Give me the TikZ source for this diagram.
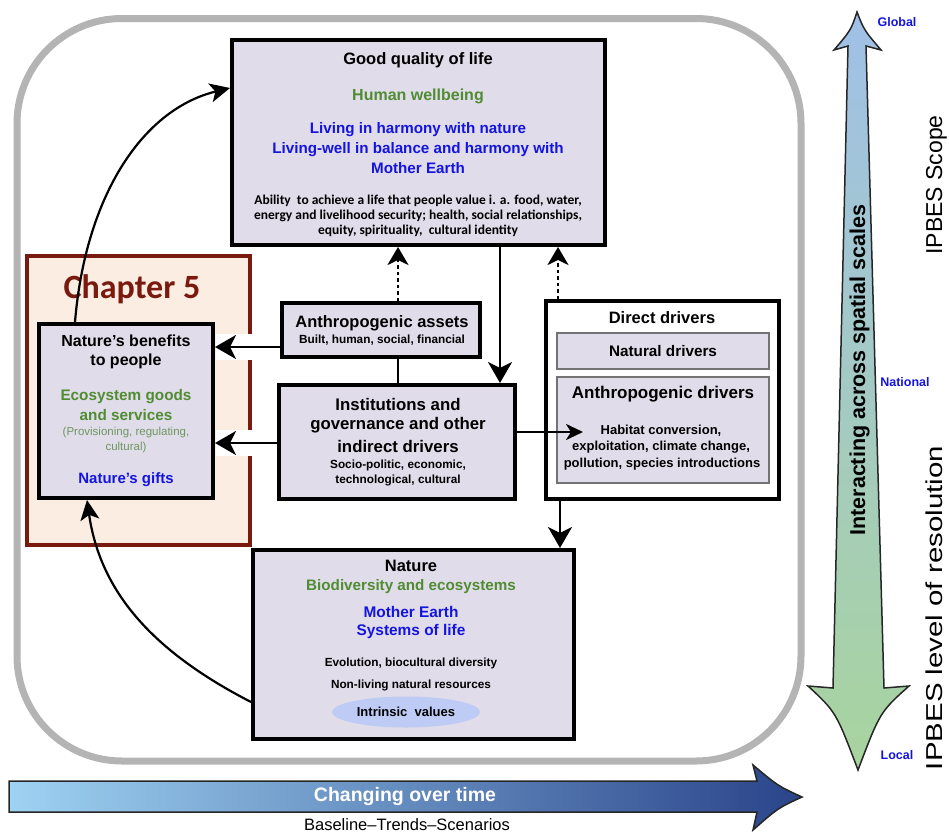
\documentclass[tikz,border=0pt]{standalone}
\usepackage{fontspec}
\setmainfont{Liberation Sans}
\newfontfamily\calib{Carlito}
\usetikzlibrary{arrows.meta,shapes.geometric}
\definecolor{lav}{RGB}{224,220,234}
\definecolor{peach}{RGB}{252,237,226}
\definecolor{chred}{RGB}{122,26,14}
\definecolor{grn}{RGB}{80,140,50}
\definecolor{lgrn}{RGB}{112,150,95}
\definecolor{blu}{RGB}{20,20,225}
\definecolor{outergray}{RGB}{180,180,180}
\definecolor{ellfill}{RGB}{190,204,245}
\definecolor{arrtop}{RGB}{160,192,232}
\definecolor{arrmid}{RGB}{163,204,205}
\definecolor{arrbot}{RGB}{168,212,158}
\definecolor{tleft}{RGB}{158,210,242}
\definecolor{tright}{RGB}{42,68,138}
\newcommand{\fsz}[1]{\fontsize{#1}{#1}\selectfont}
\begin{document}
\begin{tikzpicture}[x=1pt,y=-1pt,
  bigbox/.style={draw=black, line width=4pt, fill=lav, inner sep=0pt},
  subbox/.style={draw=black!55, line width=1.5pt, fill=lav, inner sep=0pt},
  lbl/.style={inner sep=0pt, align=center},
  arr/.style={line width=2.8pt, -{Stealth[length=21pt,width=24pt,inset=6pt]}},
  arrsmall/.style={line width=2.5pt, -{Stealth[length=17pt,width=16pt,inset=5pt]}},
  dotarr/.style={line width=2.5pt, dash pattern=on 3.5pt off 3pt, -{Stealth[length=18pt,width=21pt,inset=5pt]}},
  carr/.style={line width=2.2pt, -{Stealth[length=20pt,width=19pt,inset=5pt]}},
  scale label/.style={lbl, text=blu, font=\fsz{12.5}\bfseries}
]
\useasboundingbox (0,0) rectangle (949,835);
% outer frame
\draw[outergray, line width=7pt, rounded corners=105pt] (17,18.5) rectangle (801,761);

% chapter 5 box
\node[draw=chred, line width=4pt, fill=peach, minimum width=223pt, minimum height=289pt, inner sep=0pt] (ch5) at (138.5,400.5) {};
\node[lbl, text=chred, font=\calib\fsz{34}\bfseries] (ch5t) at (132,289) {Chapter 5};
\fill[white] (216,334) rectangle (281,360);
\fill[white] (216,430) rectangle (278,456);

% boxes
\node[bigbox, minimum width=373pt, minimum height=205pt] (good) at (418.5,142.5) {};
\node[bigbox, minimum width=174pt, minimum height=174pt] (benefits) at (126,411) {};
\node[bigbox, minimum width=198pt, minimum height=54pt] (assets) at (381,330) {};
\node[bigbox, minimum width=236pt, minimum height=114pt] (inst) at (397,442) {};
\node[bigbox, fill=white, minimum width=233pt, minimum height=198pt] (direct) at (662.5,400) {};
\node[subbox, minimum width=212pt, minimum height=36pt] (natural) at (663,351) {};
\node[subbox, minimum width=212pt, minimum height=106pt] (anthro) at (663,430) {};
\node[bigbox, minimum width=321pt, minimum height=189pt] (nature) at (413.5,644.5) {};
\node[ellipse, fill=ellfill, minimum width=148pt, minimum height=31pt, inner sep=0pt] (intr) at (406,712) {};

% good quality of life texts
\node[lbl, font=\fsz{16.5}\bfseries] (g1) at (418,60) {Good quality of life};
\node[lbl, text=grn, font=\fsz{16}\bfseries] (g2) at (418,96) {Human wellbeing};
\node[lbl, text=blu, font=\fsz{15.2}\bfseries] (g3) at (418,130) {Living in harmony with nature};
\node[lbl, text=blu, font=\fsz{15.2}\bfseries] (g4) at (418,150) {Living-well in balance and harmony with};
\node[lbl, text=blu, font=\fsz{15.2}\bfseries] (g5) at (418,168) {Mother Earth};
\node[lbl, font=\calib\fsz{13.5}\bfseries] (g6) at (418,201) {Ability\ \ to achieve a life that people value i. a. food, water,};
\node[lbl, font=\calib\fsz{13.5}\bfseries] (g7) at (418,216) {energy and livelihood security; health, social relationships,};
\node[lbl, font=\calib\fsz{13.5}\bfseries] (g8) at (418,231) {equity, spirituality,\ \ cultural identity};

% benefits texts
\node[lbl, font=\fsz{16}\bfseries] (b1) at (126,341) {Nature’s benefits};
\node[lbl, font=\fsz{16}\bfseries] (b2) at (126,361) {to people};
\node[lbl, text=grn, font=\fsz{15.3}\bfseries] (b3) at (126,397) {Ecosystem goods};
\node[lbl, text=grn, font=\fsz{15.3}\bfseries] (b4) at (126,415) {and services};
\node[lbl, text=lgrn, font=\fsz{11.5}] (b5) at (126,433) {(Provisioning, regulating,};
\node[lbl, text=lgrn, font=\fsz{11.5}] (b6) at (126,448) {cultural)};
\node[lbl, text=blu, font=\fsz{15}\bfseries] (b7) at (126,480) {Nature’s gifts};

% assets texts
\node[lbl, font=\fsz{16.5}\bfseries] (a1) at (382,323) {Anthropogenic assets};
\node[lbl, font=\fsz{11.8}\bfseries] (a2) at (382,340) {Built, human, social, financial};

% institutions texts
\node[lbl, font=\fsz{16.8}\bfseries] (i1) at (398,404) {Institutions and};
\node[lbl, font=\fsz{16.8}\bfseries] (i2) at (398,425) {governance and other};
\node[lbl, font=\fsz{16.8}\bfseries] (i3) at (398,446) {indirect drivers};
\node[lbl, font=\fsz{11.8}\bfseries] (i4) at (398,465) {Socio-politic, economic,};
\node[lbl, font=\fsz{11.8}\bfseries] (i5) at (398,480) {technological, cultural};

% direct drivers texts
\node[lbl, font=\fsz{16.5}\bfseries] (d1) at (662,318) {Direct drivers};
\node[lbl, font=\fsz{15.3}\bfseries] (d2) at (663,351) {Natural drivers};
\node[lbl, font=\fsz{17}\bfseries] (d3) at (663,394) {Anthropogenic drivers};
\node[lbl, font=\fsz{13}\bfseries] (d4) at (661,431) {Habitat conversion,};
\node[lbl, font=\fsz{13}\bfseries] (d5) at (661,447) {exploitation, climate change,};
\node[lbl, font=\fsz{13}\bfseries] (d6) at (662,464) {pollution, species introductions};

% nature texts
\node[lbl, font=\fsz{16.5}\bfseries] (n1) at (411,566) {Nature};
\node[lbl, text=grn, font=\fsz{15.2}\bfseries] (n2) at (411,587) {Biodiversity and ecosystems};
\node[lbl, text=blu, font=\fsz{15.4}\bfseries] (n3) at (411,612) {Mother Earth};
\node[lbl, text=blu, font=\fsz{15.4}\bfseries] (n4) at (411,632) {Systems of life};
\node[lbl, font=\fsz{11.8}\bfseries] (n5) at (411,663) {Evolution, biocultural diversity};
\node[lbl, font=\fsz{11.8}\bfseries] (n6) at (411,685) {Non-living natural resources};
\node[lbl, font=\fsz{13}\bfseries] (n7) at (406,712) {Intrinsic\ \ values};

% connectors
\coordinate (habtip) at (583,432);
\draw[arr] (assets.west |- 0,347) -- (benefits.east |- 0,347);
\draw[arr] (inst.west |- 0,443) -- (benefits.east |- 0,443);
\draw[arr] (good.south -| 500,0) -- (inst.north -| 500,0);
\draw[line width=2pt] (assets.south -| 398,0) -- (inst.north -| 398,0);
\draw[dotarr] (assets.north -| 398,0) -- (good.south -| 398,0);
\draw[dotarr] (direct.north -| 558,0) -- (good.south -| 558,0);
\draw[arrsmall] (inst.east |- 0,432) -- (habtip);
\draw[arr] (direct.south -| 560,0) -- (nature.north -| 560,0);
\draw[carr] (benefits.north -| 75,0) .. controls (85,200) and (140,110) .. (good.west |- 0,88);
\draw[carr] (nature.west |- 0,702) .. controls (150,650) and (100,590) .. (benefits.south -| 87,0);

% vertical scale arrow
\shadedraw[top color=arrtop, middle color=arrmid, bottom color=arrbot, draw=black!85, line width=1.5pt]
  (857,12) .. controls (864,30) .. (881,50) -- (866,46) -- (884,688) -- (909,686)
  .. controls (880,712) .. (858,770) .. controls (836,712) .. (808,686)
  -- (833,688) -- (848,46) -- (834,50) .. controls (851,30) .. (857,12) -- cycle;
\node[lbl, rotate=90, anchor=base, font=\fsz{21.5}\bfseries] (inter) at (865,370) {Interacting across spatial scales};
\node[scale label] (glob) at (897,22) {Global};
\node[scale label] (natl) at (905,382) {National};
\node[scale label] (locl) at (897,755) {Local};
\node[lbl, rotate=90, anchor=base, font=\fsz{23}] (scope) at (942,185) {IPBES Scope};
\node[lbl, rotate=90, anchor=base, font=\fsz{23}] (reso) at (942,608) {\scalebox{1.28}[1]{IPBES level of resolution}};

% horizontal time arrow
\shadedraw[left color=tleft, right color=tright, draw=black!85, line width=1.5pt]
  (9,781) -- (757,781) -- (753,765) .. controls (778,786) .. (802,797)
  .. controls (778,808) .. (753,830) -- (757,812) -- (9,812) -- cycle;
\node[lbl, text=white, font=\fsz{19.5}\bfseries] (chg) at (405,796) {Changing over time};
\node[lbl, font=\fsz{16.5}] (bts) at (407,825) {Baseline–Trends–Scenarios};
\end{tikzpicture}
\end{document}
